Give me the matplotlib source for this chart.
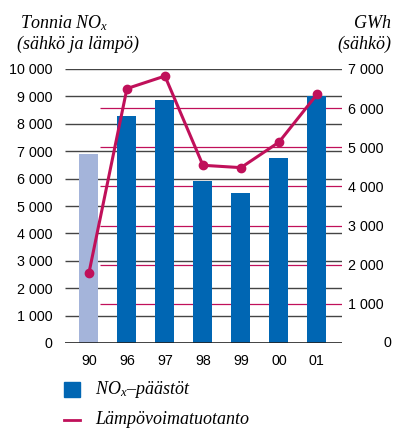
import matplotlib
matplotlib.use("Agg")
import matplotlib.pyplot as plt
import numpy as np
from matplotlib.patches import Rectangle
from matplotlib.lines import Line2D

years = ["90", "96", "97", "98", "99", "00", "01"]
nox = [6900, 8300, 8870, 5900, 5480, 6750, 9020]
gwh = [1790, 6500, 6820, 4540, 4480, 5130, 6350]
left_ticks = [0, 1000, 2000, 3000, 4000, 5000, 6000, 7000, 8000, 9000, 10000]
right_ticks = [0, 1000, 2000, 3000, 4000, 5000, 6000, 7000]

def fmt(v):
    return f"{v:,}".replace(",", " ")

plt.rcParams['mathtext.fontset'] = 'custom'
plt.rcParams['mathtext.it'] = 'Liberation Serif:italic'
plt.rcParams['mathtext.rm'] = 'Liberation Serif:italic'

W, H = 401, 429
fig = plt.figure(figsize=(W / 100, H / 100), dpi=100)
x0, x1, y0, y1 = 65, 342, 343, 69
ax = fig.add_axes([x0 / W, 1 - y0 / H, (x1 - x0) / W, (y0 - y1) / H])
ax2 = ax.twinx()

x = np.arange(len(years))
xlim = (-0.63, len(years) - 1 + 0.66)
ax.set_xlim(*xlim)
ax.set_ylim(0, 10000)
ax2.set_ylim(0, 7000)

blue = "#0066b3"
light = "#a4b4da"
mag = "#c0105a"

# gridlines
ax.hlines(left_ticks[1:], xlim[0], xlim[1], color="#444444", lw=1.0, zorder=0)
ax.hlines(right_ticks[1:-1], 0.28, xlim[1], color=mag, lw=0.9, zorder=0.5,
          transform=ax2.transData)
ax.axhline(0, color="#222222", lw=1.2, zorder=3)

colors = [light] + [blue] * (len(years) - 1)
ax.bar(x, nox, width=0.5, color=colors, zorder=2)

ax2.plot(x, gwh, color=mag, lw=2.2, marker="o", markersize=6, zorder=4)

for a in (ax, ax2):
    for s in a.spines.values():
        s.set_visible(False)

tf = dict(family="Liberation Sans", size=10.3)
ax.set_xticks(x)
ax.set_xticklabels(years, **tf)
ax.tick_params(axis="x", length=0, pad=8)
ax.set_yticks(left_ticks)
ax.set_yticklabels([fmt(v) for v in left_ticks], **tf)
ax.tick_params(axis="y", length=0, pad=9)
ax2.set_yticks(right_ticks)
ax2.set_yticklabels([fmt(v) if v else "" for v in right_ticks], **tf)
ax2.tick_params(axis="y", length=0, pad=4)
fig.text(383 / W, 1 - 343 / H, "0", ha="left", va="center", **tf)

sf = dict(family="Liberation Serif", style="italic", size=13)
fig.text(20 / W, 1 - 23 / H, "Tonnia NO$_x$", ha="left", va="center", **sf)
fig.text(17 / W, 1 - 44 / H, "(sähkö ja lämpö)", ha="left", va="center", **sf)
fig.text(391 / W, 1 - 23 / H, "GWh", ha="right", va="center", **sf)
fig.text(391 / W, 1 - 44 / H, "(sähkö)", ha="right", va="center", **sf)

# legend
fig.patches.append(Rectangle((64 / W, 1 - 397 / H), 16 / W, 15 / H,
                             transform=fig.transFigure, color=blue))
fig.lines.append(Line2D([64 / W, 80 / W], [1 - 420 / H, 1 - 420 / H],
                        transform=fig.transFigure, color=mag, lw=2.0))
fig.text(95 / W, 1 - 390 / H, "NO$_x$–päästöt", ha="left", va="center", **sf)
fig.text(95 / W, 1 - 420 / H, "Lämpövoimatuotanto", ha="left", va="center", **sf)

fig.savefig("out.png", dpi=100)
